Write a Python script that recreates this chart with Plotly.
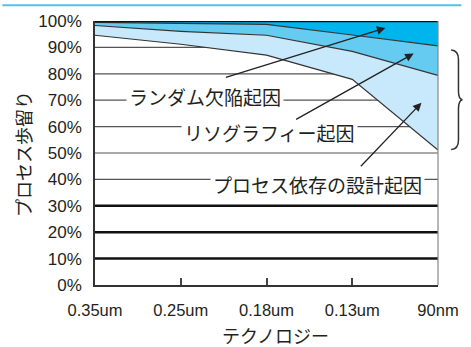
import plotly.graph_objects as go

# ---- data ----
categories = ["0.35um", "0.25um", "0.18um", "0.13um", "90nm"]
ceiling = [100, 100, 100, 100, 100]
random_defect = [99.5, 99.2, 98.7, 94.7, 90.6]
lithography = [98.3, 96.1, 94.6, 88.5, 79.4]
design_dep = [94.6, 91.2, 87.1, 77.9, 51.1]
y_ticks = [0, 10, 20, 30, 40, 50, 60, 70, 80, 90, 100]
y_ticktext = [f"{v}%" for v in y_ticks]
thin_grid = [40, 50, 60, 70, 80, 90]
thick_grid = [10, 20, 30]

label_random = "ランダム欠陥起因"
label_litho = "リソグラフィー起因"
label_design = "プロセス依存の設計起因"
y_title = "プロセス歩留り"
x_title = "テクノロジー"

W, H = 471, 347
ML, MR, MT, MB = 95, 24, 17, 62
PW, PH = W - ML - MR, H - MT - MB


def px(x):
    return (x - ML) / PW


def py(y):
    return (H - MB - y) / PH


C_DARK = "#00b4ee"
C_MED = "#66cbf1"
C_LIGHT = "#c8e9fb"
LINE = "#333333"
TXT = "#231f20"
FONT = "Liberation Sans, Arial, Noto Sans CJK JP"
JFONT = "Noto Sans CJK JP, Liberation Sans"

fig = go.Figure()
fig.add_trace(go.Scatter(x=categories, y=ceiling, mode="lines",
                         line=dict(width=0), hoverinfo="skip", showlegend=False))
fig.add_trace(go.Scatter(x=categories, y=random_defect, mode="lines", fill="tonexty",
                         fillcolor=C_DARK, line=dict(color=LINE, width=1.2), showlegend=False))
fig.add_trace(go.Scatter(x=categories, y=lithography, mode="lines", fill="tonexty",
                         fillcolor=C_MED, line=dict(color=LINE, width=1.2), showlegend=False))
fig.add_trace(go.Scatter(x=categories, y=design_dep, mode="lines", fill="tonexty",
                         fillcolor=C_LIGHT, line=dict(color=LINE, width=1.2), showlegend=False))

shapes = []
for g in thin_grid:
    shapes.append(dict(type="line", xref="paper", yref="y", x0=0, x1=1, y0=g, y1=g,
                       line=dict(color="#555555", width=1.2), layer="below"))
for g in thick_grid:
    shapes.append(dict(type="line", xref="paper", yref="y", x0=0, x1=1, y0=g, y1=g,
                       line=dict(color="#111111", width=2.5), layer="below"))
# top border
shapes.append(dict(type="line", xref="paper", yref="y", x0=0, x1=1, y0=100, y1=100,
                   line=dict(color="#111111", width=2.5), layer="above"))
# right border
shapes.append(dict(type="line", xref="paper", yref="paper", x0=1, x1=1, y0=0, y1=1,
                   line=dict(color="#888888", width=1.2), layer="above"))
# top blue rule
shapes.append(dict(type="line", xref="paper", yref="paper", x0=px(0), x1=px(W), y0=py(1), y1=py(1),
                   line=dict(color="#54c1ea", width=2)))
# brace
bp = (f"M {px(460.5)},{py(46.5)} Q {px(468)},{py(47)} {px(468)},{py(56)} "
      f"L {px(468)},{py(88)} Q {px(468)},{py(96)} {px(472)},{py(97)} "
      f"Q {px(468)},{py(98)} {px(468)},{py(106)} "
      f"L {px(468)},{py(138)} Q {px(468)},{py(147)} {px(460.5)},{py(147.5)}")
shapes.append(dict(type="path", xref="paper", yref="paper", path=bp,
                   line=dict(color="#333333", width=1.5)))

annotations = []
# labels on gridlines with white backgrounds
for text, cx, cy in [(label_random, 207.5, 93.5), (label_litho, 274, 130), (label_design, 323.5, 183)]:
    annotations.append(dict(text=text, xref="paper", yref="paper", x=px(cx), y=py(cy),
                            showarrow=False, xanchor="center", yanchor="middle",
                            font=dict(family=JFONT, size=19, color=TXT),
                            bgcolor="white", borderpad=2))
# arrows (head, tail)
for (hx, hy), (tx, ty) in [((393, 24), (232, 74)), ((422, 50), (303, 116.7)), ((430, 100), (368, 165))]:
    annotations.append(dict(text="", xref="paper", yref="paper", x=px(hx), y=py(hy),
                            ax=tx - hx, ay=ty - hy, showarrow=True, arrowhead=2,
                            arrowsize=1.3, arrowwidth=1.3, arrowcolor="#222222", standoff=0))
# axis titles
annotations.append(dict(text=y_title, xref="paper", yref="paper", x=px(21), y=py(152),
                        showarrow=False, textangle=-90, xanchor="center", yanchor="middle",
                        font=dict(family=JFONT, size=18, color=TXT)))
annotations.append(dict(text=x_title, xref="paper", yref="paper", x=px(280), y=py(336),
                        showarrow=False, xanchor="center", yanchor="middle",
                        font=dict(family=JFONT, size=18, color=TXT)))

fig.update_layout(
    width=W, height=H, margin=dict(l=ML, r=MR, t=MT, b=MB),
    paper_bgcolor="white", plot_bgcolor="white",
    shapes=shapes, annotations=annotations, showlegend=False,
    xaxis=dict(type="category", range=[0, 4], showgrid=False, showline=True,
               linecolor="#333333", linewidth=1.5, ticks="inside", ticklen=7,
               tickwidth=1.5, tickcolor="#444444", ticklabelstandoff=9,
               tickfont=dict(family=FONT, size=16.5, color=TXT), fixedrange=True),
    yaxis=dict(range=[0, 100], tickvals=y_ticks, ticktext=y_ticktext, showgrid=False,
               showline=True, linecolor="#333333",
               linewidth=1.5, ticks="", zeroline=False, ticklabelstandoff=8,
               tickfont=dict(family=FONT, size=17, color=TXT), fixedrange=True),
)

fig.write_html("out.html")
